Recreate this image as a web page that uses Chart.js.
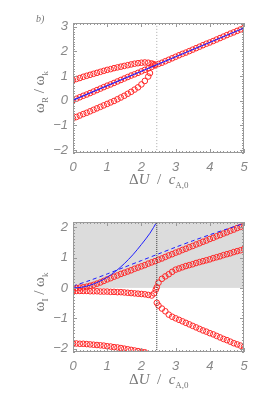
<!DOCTYPE html>
<html><head><meta charset="utf-8">
<script src="https://cdn.jsdelivr.net/npm/chart.js@4/dist/chart.umd.min.js"></script>
<style>
html,body{margin:0;padding:0;background:#fff;}
#wrap{position:relative;width:266px;height:399px;overflow:hidden;background:#fff;}
canvas{position:absolute;left:0;}
.t{position:absolute;color:#777;font-family:"Liberation Serif",serif;white-space:nowrap;line-height:1;}
.t sub{font-size:9px;vertical-align:-4px;}
.yt{transform:rotate(-90deg);transform-origin:center center;}
</style></head><body>
<div id="wrap">
<canvas id="c1" width="266" height="200" style="top:0"></canvas>
<canvas id="c2" width="266" height="199" style="top:200px"></canvas>
<div class="t" style="left:36px;top:14px;font-size:10px;font-style:italic;">b)</div>
<div class="t" style="left:129px;top:172px;font-size:15px;">Δ<i>U</i> &nbsp;/&nbsp; <i>c</i><sub>A,0</sub></div>
<div class="t" style="left:129px;top:372px;font-size:15px;">Δ<i>U</i> &nbsp;/&nbsp; <i>c</i><sub>A,0</sub></div>
<div class="t yt" style="left:12px;top:83px;width:58px;text-align:center;font-size:15px;">ω<sub>R</sub> / ω<sub>k</sub></div>
<div class="t yt" style="left:12px;top:283px;width:58px;text-align:center;font-size:15px;">ω<sub>I</sub> / ω<sub>k</sub></div>
</div>
<script>
// ---------- data ----------
const xTickLabels = [0, 1, 2, 3, 4, 5];
const yTicksTop = [-2, -1, 0, 1, 2, 3];
const yTicksBot = [-2, -1, 0, 1, 2];
const criticalU = 2.45;

// top panel: real part
const xFull = [0,0.1,0.2,0.3,0.4,0.5,0.6,0.7,0.8,0.9,1.0,1.1,1.2,1.3,1.4,1.5,1.6,1.7,1.8,1.9,2.0,2.1,2.2,2.3,2.4,2.5,2.6,2.7,2.8,2.9,3.0,3.1,3.2,3.3,3.4,3.5,3.6,3.7,3.8,3.9,4.0,4.1,4.2,4.3,4.4,4.5,4.6,4.7,4.8,4.9,5.0];
const wrMid = [0.02,0.08,0.14,0.2,0.25,0.31,0.37,0.43,0.49,0.55,0.61,0.66,0.72,0.78,0.84,0.9,0.96,1.02,1.07,1.13,1.19,1.25,1.31,1.37,1.43,1.49,1.54,1.6,1.66,1.72,1.78,1.84,1.9,1.95,2.01,2.07,2.13,2.19,2.25,2.31,2.36,2.42,2.48,2.54,2.6,2.66,2.72,2.77,2.83,2.89,2.95];
const xUpper = [0,0.1,0.2,0.3,0.4,0.5,0.6,0.7,0.8,0.9,1.0,1.1,1.2,1.3,1.4,1.5,1.6,1.7,1.8,1.9,2.0,2.1,2.2,2.3,2.35,2.4];
const wrUpper = [0.83,0.88,0.92,0.97,1.01,1.05,1.09,1.13,1.17,1.21,1.25,1.28,1.32,1.35,1.38,1.41,1.44,1.47,1.5,1.52,1.54,1.55,1.54,1.51,1.48,1.46];
const xLower = [0,0.1,0.2,0.3,0.4,0.5,0.6,0.7,0.8,0.9,1.0,1.1,1.2,1.3,1.4,1.5,1.6,1.7,1.8,1.9,2.0,2.1,2.2,2.25];
const wrLower = [-0.72,-0.66,-0.6,-0.54,-0.49,-0.43,-0.37,-0.31,-0.25,-0.19,-0.13,-0.07,-0.01,0.06,0.13,0.2,0.28,0.36,0.45,0.54,0.66,0.8,0.98,1.12];
const xBlueTop = [0, 5];
const wrBlue = [0.02, 2.95];

// bottom panel: imaginary part
const xSolid = [0,0.25,0.5,0.75,1.0,1.25,1.5,1.75,2.0,2.25,2.45];
const wiSolid = [0.0,0.02,0.09,0.2,0.35,0.55,0.8,1.09,1.43,1.8,2.17];
const xDash = [0,0.5,1,1.5,2,2.5,3,3.5,4,4.5,5];
const wiDash = [0.06,0.25,0.46,0.68,0.9,1.12,1.34,1.55,1.75,1.94,2.12];
const wiGrow = [0.0,0.0,0.01,0.02,0.04,0.07,0.1,0.14,0.18,0.23,0.28,0.32,0.37,0.41,0.46,0.5,0.54,0.58,0.63,0.67,0.71,0.75,0.8,0.84,0.88,0.93,0.97,1.02,1.07,1.11,1.16,1.2,1.25,1.29,1.34,1.38,1.43,1.47,1.52,1.56,1.61,1.65,1.7,1.74,1.79,1.83,1.88,1.92,1.97,2.01,2.06];
const xNeg = [0,0.1,0.2,0.3,0.4,0.5,0.6,0.7,0.8,0.9,1.0,1.1,1.2,1.3,1.4,1.5,1.6,1.7,1.8,1.9,2.0,2.1,2.2,2.3,2.37,2.42];
const wiNeg = [-0.1,-0.1,-0.1,-0.1,-0.1,-0.11,-0.11,-0.11,-0.12,-0.12,-0.12,-0.13,-0.13,-0.14,-0.14,-0.15,-0.16,-0.17,-0.18,-0.19,-0.2,-0.21,-0.23,-0.25,-0.18,-0.06];
const xSplit = [2.45,2.5,2.6,2.7,2.8,2.9,3.0,3.1,3.2,3.3,3.4,3.5,3.6,3.7,3.8,3.9,4.0,4.1,4.2,4.3,4.4,4.5,4.6,4.7,4.8,4.9,5.0];
const wiSplitUp = [0.02,0.17,0.3,0.38,0.45,0.53,0.6,0.64,0.68,0.72,0.75,0.78,0.82,0.85,0.88,0.91,0.94,0.98,1.01,1.04,1.08,1.11,1.14,1.18,1.21,1.24,1.28];
const wiSplitDown = [-0.49,-0.58,-0.68,-0.77,-0.88,-0.95,-1.0,-1.05,-1.1,-1.15,-1.2,-1.25,-1.3,-1.35,-1.4,-1.44,-1.49,-1.53,-1.58,-1.63,-1.68,-1.72,-1.77,-1.82,-1.86,-1.9,-1.94];
const xDeep = [0,0.1,0.2,0.3,0.4,0.5,0.6,0.7,0.8,0.9,1.0,1.1,1.2,1.3,1.4,1.5,1.6,1.7,1.8,1.9,2.0,2.1];
const wiDeep = [-1.83,-1.83,-1.84,-1.84,-1.85,-1.86,-1.87,-1.88,-1.89,-1.9,-1.92,-1.93,-1.95,-1.96,-1.98,-2.0,-2.02,-2.04,-2.06,-2.08,-2.1,-2.12];

// ---------- helpers ----------
const RED = 'rgb(255,40,40)';
const BLUE = 'rgb(30,30,255)';
const pts = (xs, ys) => xs.map((x, i) => ({x: x, y: ys[i]}));
const circles = (xs, ys) => ({data: pts(xs, ys), showLine: false, pointStyle: 'circle', pointRadius: 2.8, pointBorderWidth: 1, pointBorderColor: RED, pointBackgroundColor: 'rgba(0,0,0,0)', clip: 0, order: 2});
const line = (xs, ys, dash, color, w) => ({data: pts(xs, ys), showLine: true, pointRadius: 0, borderColor: color, borderWidth: w, borderDash: dash, fill: false, tension: 0.3, clip: 0, order: 1});
const fmt = v => v < 0 ? '\u2212' + Math.abs(v) : String(v);

const framePlugin = {
  id: 'frame',
  beforeDatasetsDraw(chart, args, opts) {
    const {ctx, chartArea: a, scales: {y}} = chart;
    if (opts.shade) {
      const y0 = y.getPixelForValue(0);
      ctx.save();
      ctx.fillStyle = '#dcdcdc';
      ctx.fillRect(a.left, a.top, a.right - a.left, y0 - a.top);
      ctx.restore();
    }
  },
  afterDatasetsDraw(chart, args, opts) {
    const {ctx, chartArea: a, scales: {x, y}} = chart;
    ctx.save();
    ctx.strokeStyle = '#999';
    ctx.lineWidth = 1;
    ctx.strokeRect(Math.round(a.left) + 0.5, Math.round(a.top) + 0.5, Math.round(a.right - a.left) - 1, Math.round(a.bottom - a.top) - 1);
    ctx.beginPath();
    for (let i = 0; i <= 50; i++) {
      const v = i / 10;
      const px = Math.round(x.getPixelForValue(v)) + 0.5;
      const len = (i % 10 === 0) ? 4 : 2;
      ctx.moveTo(px, a.bottom); ctx.lineTo(px, a.bottom - len);
      ctx.moveTo(px, a.top); ctx.lineTo(px, a.top + len);
    }
    const lo = Math.ceil(y.min * 10), hi = Math.floor(y.max * 10);
    for (let i = lo; i <= hi; i++) {
      const v = i / 10;
      const py = Math.round(y.getPixelForValue(v)) + 0.5;
      const len = (i % 10 === 0) ? 4 : 2;
      ctx.moveTo(a.left, py); ctx.lineTo(a.left + len, py);
      ctx.moveTo(a.right, py); ctx.lineTo(a.right - len, py);
    }
    ctx.stroke();
    ctx.restore();
  }
};

function makeOptions(ymin, ymax, yTicks, shade) {
  return {
    responsive: false,
    animation: false,
    events: [],
    layout: {padding: {left: 0, right: 22, top: 23, bottom: 0}},
    plugins: {legend: {display: false}, tooltip: {enabled: false}, frame: {shade: shade}},
    scales: {
      x: {
        type: 'linear', min: 0, max: 5,
        grid: {display: false, drawTicks: false}, border: {display: false},
        afterBuildTicks: s => { s.ticks = xTickLabels.map(v => ({value: v})); },
        afterFit: s => { s.height = 47; },
        ticks: {padding: 7, color: '#888', font: {family: 'Liberation Sans', style: 'italic', size: 13}, callback: v => fmt(v), maxRotation: 0, autoSkip: false}
      },
      y: {
        type: 'linear', min: ymin, max: ymax,
        grid: {display: false, drawTicks: false}, border: {display: false},
        afterBuildTicks: s => { s.ticks = yTicks.map(v => ({value: v})); },
        afterFit: s => { s.width = 73; },
        ticks: {padding: 5, color: '#888', font: {family: 'Liberation Sans', style: 'italic', size: 13}, callback: v => fmt(v), autoSkip: false}
      }
    }
  };
}

new Chart(document.getElementById('c1'), {
  type: 'scatter',
  data: {datasets: [
    line([criticalU, criticalU], [-2.12, 3.15], [1, 2], '#aaa', 1),
    circles(xFull, wrMid),
    circles(xUpper, wrUpper),
    circles(xLower, wrLower),
    line(xBlueTop, wrBlue, [], BLUE, 1.2)
  ]},
  options: makeOptions(-2.12, 3.15, yTicksTop, false),
  plugins: [framePlugin]
});

const opt2 = makeOptions(-2.11, 2.17, yTicksBot, true);
opt2.layout.padding.top = 22;
new Chart(document.getElementById('c2'), {
  type: 'scatter',
  data: {datasets: [
    line([criticalU, criticalU], [-2.11, 2.17], [1, 1], '#333', 1),
    circles(xFull, wiGrow),
    circles(xNeg, wiNeg),
    circles(xSplit, wiSplitUp),
    circles(xSplit, wiSplitDown),
    circles(xDeep, wiDeep),
    line(xSolid, wiSolid, [], BLUE, 1),
    line(xDash, wiDash, [4, 3], BLUE, 1)
  ]},
  options: opt2,
  plugins: [framePlugin]
});
</script>
</body></html>
